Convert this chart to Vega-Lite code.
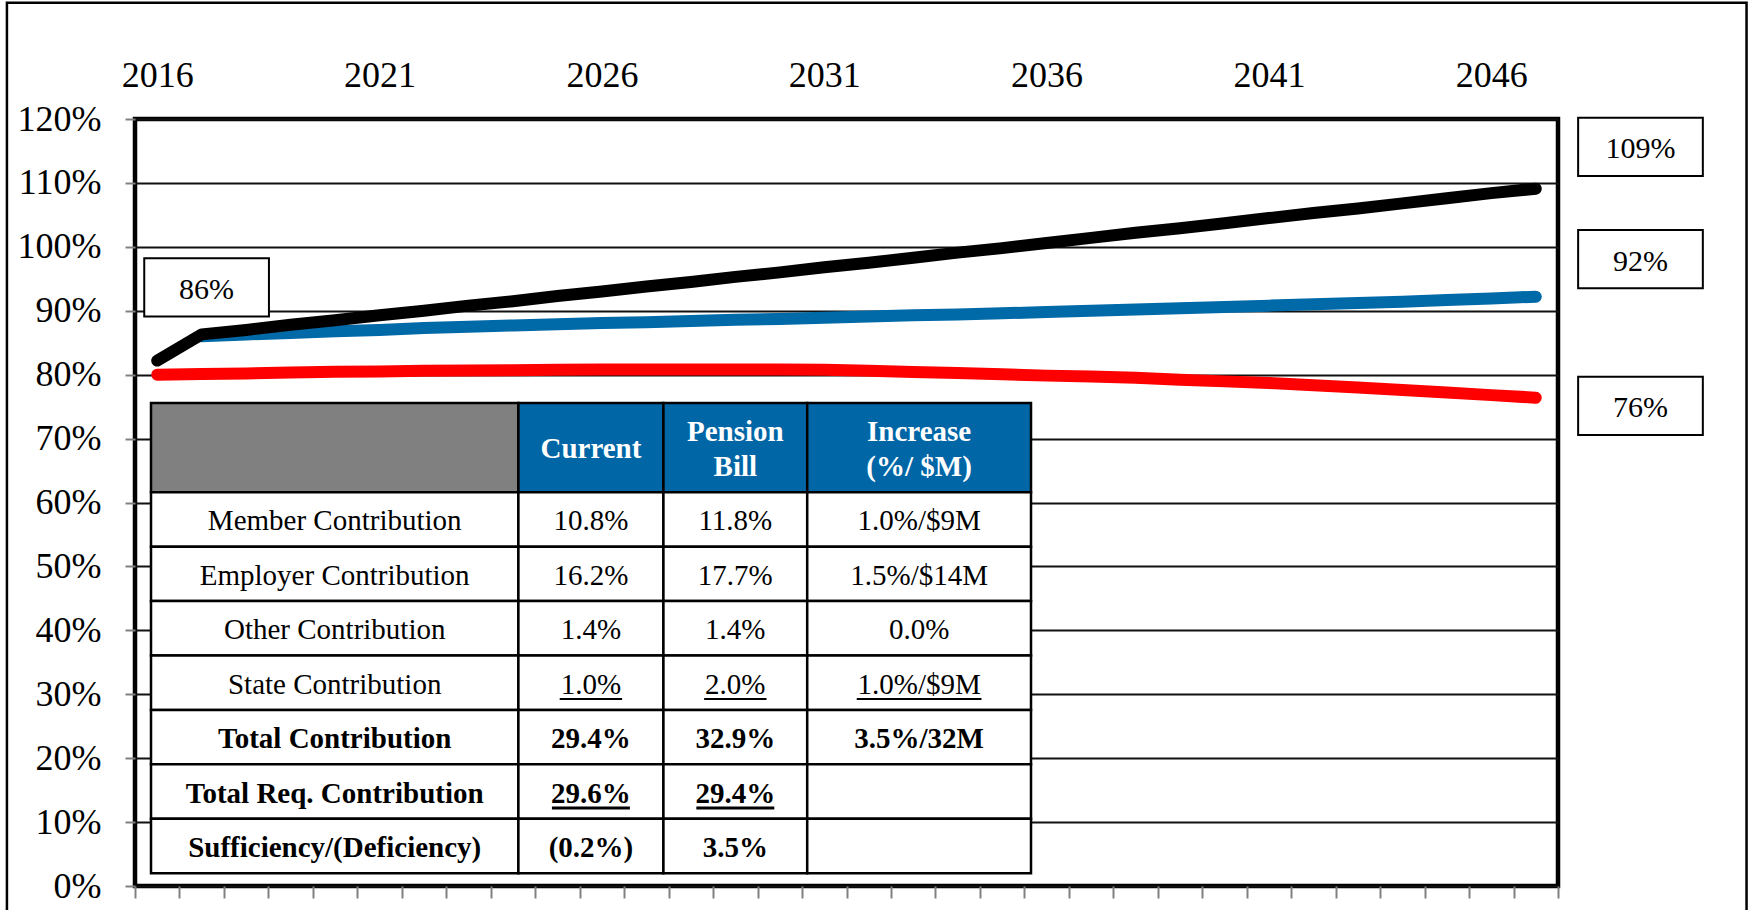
{
  "$schema": "https://vega.github.io/schema/vega-lite/v6.json",
  "width": 1423,
  "height": 767,
  "autosize": "none",
  "padding": {"left": 135, "top": 119, "right": 194, "bottom": 24},
  "background": "white",
  "config": {"view": {"stroke": "#000", "strokeWidth": 4.5}, "font": "Liberation Serif"},
  "datasets": {
    "lines": [
      {"series": "Current", "year": 2016, "pct": 80.0},
      {"series": "Current", "year": 2017, "pct": 80.1},
      {"series": "Current", "year": 2018, "pct": 80.2},
      {"series": "Current", "year": 2019, "pct": 80.35},
      {"series": "Current", "year": 2020, "pct": 80.45},
      {"series": "Current", "year": 2021, "pct": 80.5},
      {"series": "Current", "year": 2022, "pct": 80.6},
      {"series": "Current", "year": 2023, "pct": 80.65},
      {"series": "Current", "year": 2024, "pct": 80.7},
      {"series": "Current", "year": 2025, "pct": 80.75},
      {"series": "Current", "year": 2026, "pct": 80.8},
      {"series": "Current", "year": 2027, "pct": 80.8},
      {"series": "Current", "year": 2028, "pct": 80.8},
      {"series": "Current", "year": 2029, "pct": 80.8},
      {"series": "Current", "year": 2030, "pct": 80.8},
      {"series": "Current", "year": 2031, "pct": 80.75},
      {"series": "Current", "year": 2032, "pct": 80.6},
      {"series": "Current", "year": 2033, "pct": 80.4},
      {"series": "Current", "year": 2034, "pct": 80.25},
      {"series": "Current", "year": 2035, "pct": 80.05},
      {"series": "Current", "year": 2036, "pct": 79.85},
      {"series": "Current", "year": 2037, "pct": 79.7},
      {"series": "Current", "year": 2038, "pct": 79.5},
      {"series": "Current", "year": 2039, "pct": 79.2},
      {"series": "Current", "year": 2040, "pct": 78.95},
      {"series": "Current", "year": 2041, "pct": 78.7},
      {"series": "Current", "year": 2042, "pct": 78.35},
      {"series": "Current", "year": 2043, "pct": 78.0},
      {"series": "Current", "year": 2044, "pct": 77.6},
      {"series": "Current", "year": 2045, "pct": 77.2},
      {"series": "Current", "year": 2046, "pct": 76.8},
      {"series": "Current", "year": 2047, "pct": 76.4},
      {"series": "Pension Bill", "year": 2017, "pct": 86.0},
      {"series": "Pension Bill", "year": 2018, "pct": 86.3},
      {"series": "Pension Bill", "year": 2019, "pct": 86.5},
      {"series": "Pension Bill", "year": 2020, "pct": 86.8},
      {"series": "Pension Bill", "year": 2021, "pct": 87.0},
      {"series": "Pension Bill", "year": 2022, "pct": 87.3},
      {"series": "Pension Bill", "year": 2023, "pct": 87.5},
      {"series": "Pension Bill", "year": 2024, "pct": 87.7},
      {"series": "Pension Bill", "year": 2025, "pct": 87.9},
      {"series": "Pension Bill", "year": 2026, "pct": 88.1},
      {"series": "Pension Bill", "year": 2027, "pct": 88.2},
      {"series": "Pension Bill", "year": 2028, "pct": 88.4},
      {"series": "Pension Bill", "year": 2029, "pct": 88.6},
      {"series": "Pension Bill", "year": 2030, "pct": 88.7},
      {"series": "Pension Bill", "year": 2031, "pct": 88.9},
      {"series": "Pension Bill", "year": 2032, "pct": 89.1},
      {"series": "Pension Bill", "year": 2033, "pct": 89.3},
      {"series": "Pension Bill", "year": 2034, "pct": 89.4},
      {"series": "Pension Bill", "year": 2035, "pct": 89.6},
      {"series": "Pension Bill", "year": 2036, "pct": 89.8},
      {"series": "Pension Bill", "year": 2037, "pct": 90.0},
      {"series": "Pension Bill", "year": 2038, "pct": 90.2},
      {"series": "Pension Bill", "year": 2039, "pct": 90.4},
      {"series": "Pension Bill", "year": 2040, "pct": 90.6},
      {"series": "Pension Bill", "year": 2041, "pct": 90.8},
      {"series": "Pension Bill", "year": 2042, "pct": 91.0},
      {"series": "Pension Bill", "year": 2043, "pct": 91.2},
      {"series": "Pension Bill", "year": 2044, "pct": 91.4},
      {"series": "Pension Bill", "year": 2045, "pct": 91.7},
      {"series": "Pension Bill", "year": 2046, "pct": 91.9},
      {"series": "Pension Bill", "year": 2047, "pct": 92.2},
      {"series": "Required Contribution", "year": 2016, "pct": 82.2},
      {"series": "Required Contribution", "year": 2017, "pct": 86.3},
      {"series": "Required Contribution", "year": 2018, "pct": 87.0},
      {"series": "Required Contribution", "year": 2019, "pct": 87.8},
      {"series": "Required Contribution", "year": 2020, "pct": 88.5},
      {"series": "Required Contribution", "year": 2021, "pct": 89.3},
      {"series": "Required Contribution", "year": 2022, "pct": 90.0},
      {"series": "Required Contribution", "year": 2023, "pct": 90.8},
      {"series": "Required Contribution", "year": 2024, "pct": 91.5},
      {"series": "Required Contribution", "year": 2025, "pct": 92.3},
      {"series": "Required Contribution", "year": 2026, "pct": 93.0},
      {"series": "Required Contribution", "year": 2027, "pct": 93.8},
      {"series": "Required Contribution", "year": 2028, "pct": 94.5},
      {"series": "Required Contribution", "year": 2029, "pct": 95.3},
      {"series": "Required Contribution", "year": 2030, "pct": 96.0},
      {"series": "Required Contribution", "year": 2031, "pct": 96.8},
      {"series": "Required Contribution", "year": 2032, "pct": 97.5},
      {"series": "Required Contribution", "year": 2033, "pct": 98.3},
      {"series": "Required Contribution", "year": 2034, "pct": 99.1},
      {"series": "Required Contribution", "year": 2035, "pct": 99.8},
      {"series": "Required Contribution", "year": 2036, "pct": 100.6},
      {"series": "Required Contribution", "year": 2037, "pct": 101.4},
      {"series": "Required Contribution", "year": 2038, "pct": 102.2},
      {"series": "Required Contribution", "year": 2039, "pct": 102.9},
      {"series": "Required Contribution", "year": 2040, "pct": 103.7},
      {"series": "Required Contribution", "year": 2041, "pct": 104.5},
      {"series": "Required Contribution", "year": 2042, "pct": 105.3},
      {"series": "Required Contribution", "year": 2043, "pct": 106.0},
      {"series": "Required Contribution", "year": 2044, "pct": 106.8},
      {"series": "Required Contribution", "year": 2045, "pct": 107.6},
      {"series": "Required Contribution", "year": 2046, "pct": 108.4},
      {"series": "Required Contribution", "year": 2047, "pct": 109.1}
    ],
    "callouts": [
      {"label": "86%", "year": 2017.11, "pct": 93.65},
      {"label": "109%", "year": 2049.355, "pct": 115.65},
      {"label": "92%", "year": 2049.355, "pct": 98.07},
      {"label": "76%", "year": 2049.355, "pct": 75.13}
    ],
    "frame": [
      {"x0": 2012.62, "x1": 2051.74, "y0": 138.2, "y1": -8}
    ],
    "cols": [
      {"c": 0, "x0": 0, "x1": 41.75},
      {"c": 1, "x0": 41.75, "x1": 58.23},
      {"c": 2, "x0": 58.23, "x1": 74.57},
      {"c": 3, "x0": 74.57, "x1": 100}
    ],
    "rows": [
      {"r": 0, "y0": 0, "y1": 1.64},
      {"r": 1, "y0": 1.64, "y1": 2.64},
      {"r": 2, "y0": 2.64, "y1": 3.64},
      {"r": 3, "y0": 3.64, "y1": 4.64},
      {"r": 4, "y0": 4.64, "y1": 5.64},
      {"r": 5, "y0": 5.64, "y1": 6.64},
      {"r": 6, "y0": 6.64, "y1": 7.64},
      {"r": 7, "y0": 7.64, "y1": 8.64}
    ],
    "cells": [
      {"r": 0, "c": 0, "text": ""},
      {"r": 0, "c": 1, "text": "Current"},
      {"r": 0, "c": 2, "text": "Pension\nBill"},
      {"r": 0, "c": 3, "text": "Increase\n(%/ $M)"},
      {"r": 1, "c": 0, "text": "Member Contribution"},
      {"r": 1, "c": 1, "text": "10.8%"},
      {"r": 1, "c": 2, "text": "11.8%"},
      {"r": 1, "c": 3, "text": "1.0%/$9M"},
      {"r": 2, "c": 0, "text": "Employer Contribution"},
      {"r": 2, "c": 1, "text": "16.2%"},
      {"r": 2, "c": 2, "text": "17.7%"},
      {"r": 2, "c": 3, "text": "1.5%/$14M"},
      {"r": 3, "c": 0, "text": "Other Contribution"},
      {"r": 3, "c": 1, "text": "1.4%"},
      {"r": 3, "c": 2, "text": "1.4%"},
      {"r": 3, "c": 3, "text": "0.0%"},
      {"r": 4, "c": 0, "text": "State Contribution"},
      {"r": 4, "c": 1, "text": "1.0%"},
      {"r": 4, "c": 2, "text": "2.0%"},
      {"r": 4, "c": 3, "text": "1.0%/$9M"},
      {"r": 5, "c": 0, "text": "Total Contribution"},
      {"r": 5, "c": 1, "text": "29.4%"},
      {"r": 5, "c": 2, "text": "32.9%"},
      {"r": 5, "c": 3, "text": "3.5%/32M"},
      {"r": 6, "c": 0, "text": "Total Req. Contribution"},
      {"r": 6, "c": 1, "text": "29.6%"},
      {"r": 6, "c": 2, "text": "29.4%"},
      {"r": 6, "c": 3, "text": ""},
      {"r": 7, "c": 0, "text": "Sufficiency/(Deficiency)"},
      {"r": 7, "c": 1, "text": "(0.2%)"},
      {"r": 7, "c": 2, "text": "3.5%"},
      {"r": 7, "c": 3, "text": ""}
    ]
  },
  "layer": [
    {
      "data": {"name": "lines"},
      "mark": {"type": "line", "strokeWidth": 12, "strokeCap": "round", "strokeJoin": "round"},
      "encoding": {
        "x": {
          "field": "year", "type": "quantitative",
          "scale": {"domain": [2015.5, 2047.5], "nice": false, "zero": false},
          "axis": {
            "orient": "top", "values": [2016, 2021, 2026, 2031, 2036, 2041, 2046], "format": "d",
            "ticks": false, "tickSize": 0, "domain": false, "grid": false,
            "labelFont": "Liberation Serif", "labelFontSize": 36, "labelColor": "#000",
            "labelPadding": 33, "labelBaseline": "alphabetic", "labelOverlap": false, "labelBound": false,
            "title": null
          }
        },
        "y": {
          "field": "pct", "type": "quantitative",
          "scale": {"domain": [0, 120], "nice": false},
          "axis": {
            "orient": "left",
            "values": [0, 10, 20, 30, 40, 50, 60, 70, 80, 90, 100, 110, 120],
            "labelExpr": "datum.value + '%'",
            "grid": true, "gridColor": "#111", "gridWidth": 2,
            "domain": false, "ticks": true, "tickColor": "#808080", "tickSize": 10, "tickWidth": 2,
            "labelFont": "Liberation Serif", "labelFontSize": 36, "labelColor": "#000",
            "labelPadding": 24, "labelOverlap": false, "labelBound": false, "title": null
          }
        },
        "color": {
          "field": "series", "type": "nominal",
          "scale": {"domain": ["Current", "Pension Bill", "Required Contribution"], "range": ["#ff0000", "#0069a8", "#000000"]},
          "legend": null
        }
      }
    },
    {
      "data": {"name": "frame"},
      "mark": {"type": "rect", "filled": false, "stroke": "#000", "strokeWidth": 2.5},
      "encoding": {
        "x": {"field": "x0", "type": "quantitative", "scale": {"domain": [2015.5, 2047.5], "nice": false, "zero": false}, "axis": null},
        "x2": {"field": "x1"},
        "y": {"field": "y0", "type": "quantitative", "scale": {"domain": [0, 120], "nice": false}, "axis": null},
        "y2": {"field": "y1"}
      }
    },
    {
      "data": {"name": "callouts"},
      "mark": {"type": "point", "shape": "M-1,-0.4675H1V0.4675H-1Z", "size": 15550, "filled": true, "fill": "#ffffff", "stroke": "#000", "strokeWidth": 2, "opacity": 1},
      "encoding": {
        "x": {
          "field": "year", "type": "quantitative",
          "scale": {"domain": [2015.5, 2047.5], "nice": false, "zero": false},
          "axis": {
            "orient": "bottom",
            "values": [2015.5, 2016.5, 2017.5, 2018.5, 2019.5, 2020.5, 2021.5, 2022.5, 2023.5, 2024.5, 2025.5, 2026.5, 2027.5, 2028.5, 2029.5, 2030.5, 2031.5, 2032.5, 2033.5, 2034.5, 2035.5, 2036.5, 2037.5, 2038.5, 2039.5, 2040.5, 2041.5, 2042.5, 2043.5, 2044.5, 2045.5, 2046.5, 2047.5],
            "labels": false, "ticks": true, "tickSize": 12, "tickColor": "#808080", "tickWidth": 2,
            "domain": false, "grid": false, "title": null
          }
        },
        "y": {"field": "pct", "type": "quantitative", "scale": {"domain": [0, 120], "nice": false}, "axis": null}
      }
    },
    {
      "data": {"name": "callouts"},
      "mark": {"type": "text", "font": "Liberation Serif", "fontSize": 30, "color": "#000", "align": "center", "baseline": "middle", "dy": 2.5},
      "encoding": {
        "x": {"field": "year", "type": "quantitative", "scale": {"domain": [2015.5, 2047.5], "nice": false, "zero": false}, "axis": null},
        "y": {"field": "pct", "type": "quantitative", "scale": {"domain": [0, 120], "nice": false}, "axis": null},
        "text": {"field": "label"}
      }
    },
    {
      "data": {"name": "cells"},
      "transform": [
        {"lookup": "c", "from": {"data": {"name": "cols"}, "key": "c", "fields": ["x0", "x1"]}},
        {"lookup": "r", "from": {"data": {"name": "rows"}, "key": "r", "fields": ["y0", "y1"]}},
        {"calculate": "(datum.x0 + datum.x1) / 2", "as": "xm"},
        {"calculate": "(datum.y0 + datum.y1) / 2", "as": "ym"}
      ],
      "layer": [
        {
          "mark": {"type": "rect", "stroke": "#000", "strokeWidth": 2.5},
          "encoding": {
            "x": {"field": "x0", "type": "quantitative", "scale": {"domain": [0, 100], "range": [16, 896], "nice": false, "zero": false}, "axis": null},
            "x2": {"field": "x1"},
            "y": {"field": "y0", "type": "quantitative", "scale": {"domain": [0, 8.64], "range": [284, 754.2], "nice": false, "zero": false}, "axis": null},
            "y2": {"field": "y1"},
            "fill": {
              "condition": [
                {"test": "datum.r == 0 && datum.c == 0", "value": "#808080"},
                {"test": "datum.r == 0", "value": "#0066a6"}
              ],
              "value": "#ffffff"
            }
          }
        },
        {
          "transform": [{"filter": "datum.r >= 1 && datum.r <= 4"}],
          "mark": {"type": "text", "font": "Liberation Serif", "fontSize": 29, "color": "#000", "align": "center", "baseline": "middle", "dy": 2},
          "encoding": {
            "x": {"field": "xm", "type": "quantitative", "scale": {"domain": [0, 100], "range": [16, 896], "nice": false, "zero": false}, "axis": null},
            "y": {"field": "ym", "type": "quantitative", "scale": {"domain": [0, 8.64], "range": [284, 754.2], "nice": false, "zero": false}, "axis": null},
            "text": {"field": "text"}
          }
        },
        {
          "transform": [{"filter": "datum.r >= 5"}],
          "mark": {"type": "text", "font": "Liberation Serif", "fontSize": 29, "fontWeight": "bold", "color": "#000", "align": "center", "baseline": "middle", "dy": 2},
          "encoding": {
            "x": {"field": "xm", "type": "quantitative", "scale": {"domain": [0, 100], "range": [16, 896], "nice": false, "zero": false}, "axis": null},
            "y": {"field": "ym", "type": "quantitative", "scale": {"domain": [0, 8.64], "range": [284, 754.2], "nice": false, "zero": false}, "axis": null},
            "text": {"field": "text"}
          }
        },
        {
          "transform": [{"filter": "datum.r == 0 && datum.c == 1"}],
          "mark": {"type": "text", "font": "Liberation Serif", "fontSize": 29, "fontWeight": "bold", "color": "#ffffff", "align": "center", "baseline": "middle", "dy": 1.5},
          "encoding": {
            "x": {"field": "xm", "type": "quantitative", "scale": {"domain": [0, 100], "range": [16, 896], "nice": false, "zero": false}, "axis": null},
            "y": {"field": "ym", "type": "quantitative", "scale": {"domain": [0, 8.64], "range": [284, 754.2], "nice": false, "zero": false}, "axis": null},
            "text": {"field": "text"}
          }
        },
        {
          "transform": [{"filter": "datum.r == 0 && datum.c >= 2"}],
          "mark": {"type": "text", "font": "Liberation Serif", "fontSize": 29, "fontWeight": "bold", "color": "#ffffff", "align": "center", "baseline": "middle", "lineBreak": "\n", "lineHeight": 35, "dy": -15.5},
          "encoding": {
            "x": {"field": "xm", "type": "quantitative", "scale": {"domain": [0, 100], "range": [16, 896], "nice": false, "zero": false}, "axis": null},
            "y": {"field": "ym", "type": "quantitative", "scale": {"domain": [0, 8.64], "range": [284, 754.2], "nice": false, "zero": false}, "axis": null},
            "text": {"field": "text"}
          }
        },
        {
          "transform": [
            {"filter": "(datum.r == 4 || datum.r == 6) && datum.c >= 1 && datum.text != ''"},
            {"calculate": "length(datum.text) * 0.886", "as": "hw"},
            {"calculate": "datum.xm - datum.hw", "as": "ux0"},
            {"calculate": "datum.xm + datum.hw", "as": "ux1"},
            {"calculate": "datum.ym + 0.3", "as": "uy"}
          ],
          "mark": {"type": "rule", "color": "#000"},
          "encoding": {
            "x": {"field": "ux0", "type": "quantitative", "scale": {"domain": [0, 100], "range": [16, 896], "nice": false, "zero": false}, "axis": null},
            "x2": {"field": "ux1"},
            "y": {"field": "uy", "type": "quantitative", "scale": {"domain": [0, 8.64], "range": [284, 754.2], "nice": false, "zero": false}, "axis": null},
            "strokeWidth": {"condition": {"test": "datum.r >= 5", "value": 3}, "value": 2}
          }
        }
      ]
    }
  ],
  "resolve": {"scale": {"x": "independent", "y": "independent"}}
}
